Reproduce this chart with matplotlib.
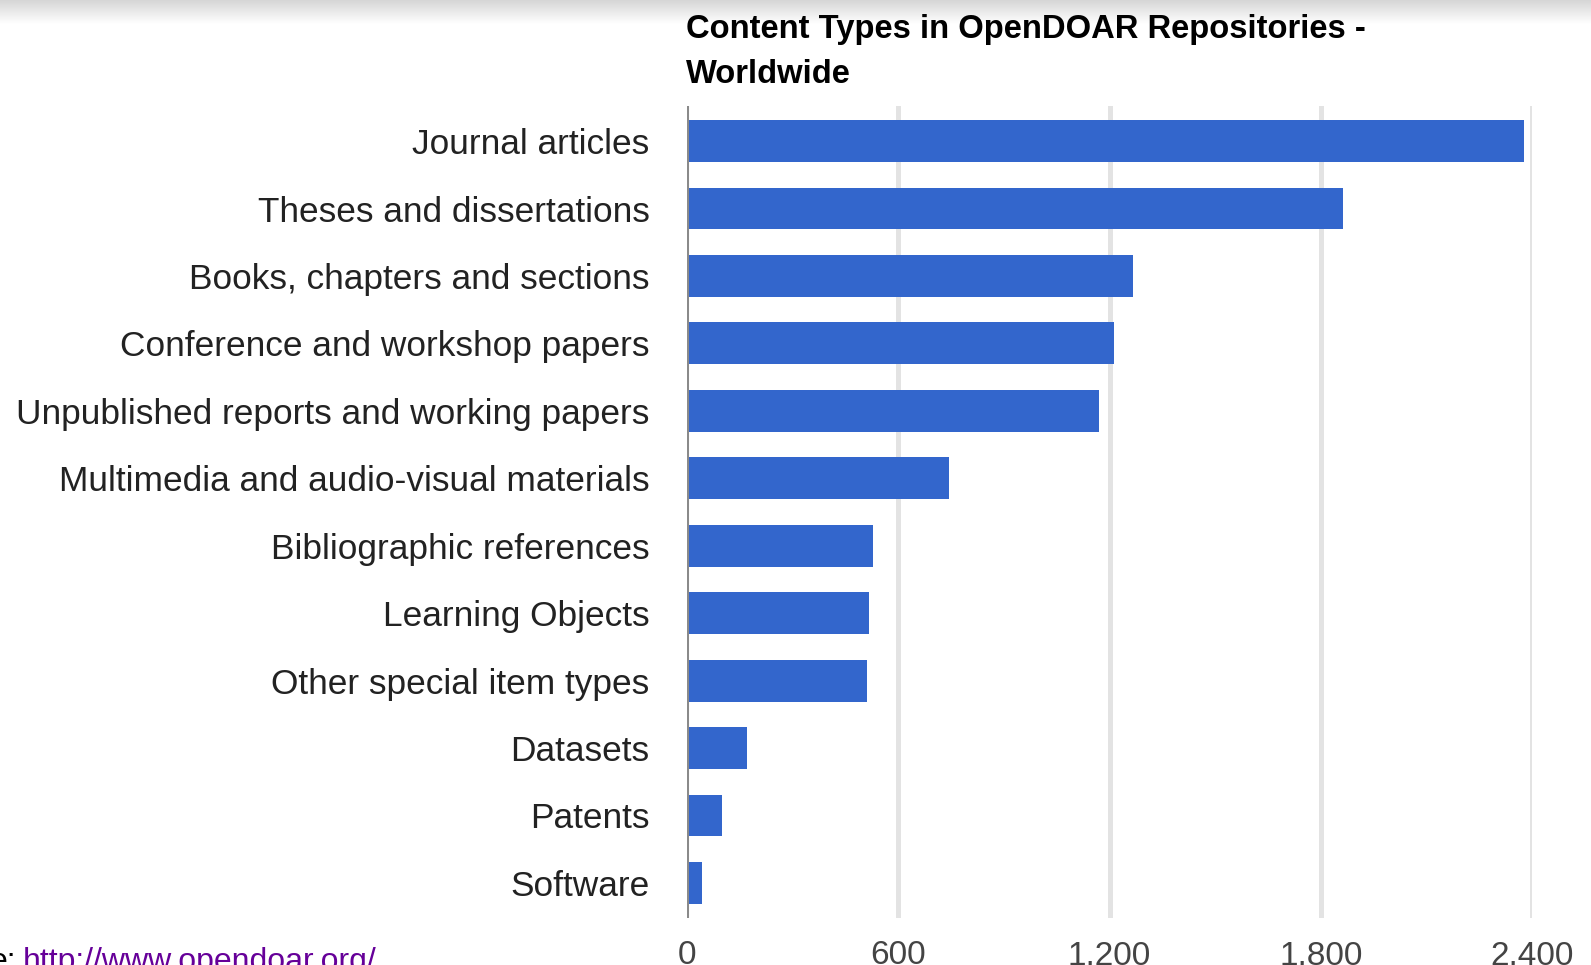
import matplotlib
matplotlib.use("Agg")
import matplotlib.pyplot as plt
import numpy as np

categories = ["Journal articles", "Theses and dissertations", "Books, chapters and sections",
              "Conference and workshop papers", "Unpublished reports and working papers",
              "Multimedia and audio-visual materials", "Bibliographic references",
              "Learning Objects", "Other special item types", "Datasets", "Patents", "Software"]
values = [2378, 1862, 1266, 1212, 1170, 743, 527, 518, 510, 170, 99, 42]
xticks = [0, 600, 1200, 1800, 2400]
xtick_labels = ["0", "600", "1,200", "1,800", "2,400"]
title = "Content Types in OpenDOAR Repositories -\nWorldwide"
source_prefix = "e:"
source_url = "http://www.opendoar.org/"

W, H = 1591, 965
plt.rcParams['font.family'] = ['Liberation Sans', 'DejaVu Sans']
fig = plt.figure(figsize=(W / 100, H / 100), dpi=100)
fig.patch.set_facecolor("white")

# top shadow gradient
gax = fig.add_axes([0, 1 - 24 / H, 1, 24 / H], zorder=-5)
grad = np.linspace(0, 1, 50).reshape(-1, 1)
gax.imshow(grad, aspect="auto", cmap=matplotlib.colors.LinearSegmentedColormap.from_list(
    "g", ["#d6d6d6", "#ffffff"]), extent=[0, 1, 0, 1], origin="upper")
gax.axis("off")

left, right, top, bottom = 687, 1532, 106, 918
ax = fig.add_axes([left / W, 1 - bottom / H, (right - left) / W, (bottom - top) / H])
ypos = np.arange(len(categories))
ax.barh(ypos, values, height=0.62, color="#3366cc", zorder=3)
ax.set_xlim(0, 2400)
ax.set_ylim(len(categories) - 0.48, -0.52)
for x in xticks[1:]:
    ax.axvline(x, color="#e3e3e3", lw=3.6, zorder=1)
ax.axvline(0, color="#8a8a8a", lw=2.2, zorder=4)
for s in ax.spines.values():
    s.set_visible(False)
ax.set_yticks(ypos)
ax.set_yticklabels(categories, fontsize=25.4, color="#222222")
ax.set_xticks(xticks)
ax.set_xticklabels(xtick_labels, fontsize=24, color="#444444")
ax.tick_params(axis="y", length=0, pad=27)
ax.tick_params(axis="x", length=0, pad=16)

fig.text(686 / W, 1 - 83 / H, title, fontsize=23.6, fontweight="bold", color="#000000",
         ha="left", va="baseline", linespacing=1.6)

fig.text(16 / W, 1 - 947 / H, source_prefix, fontsize=23, color="#000000", ha="right", va="top")
fig.text(22.5 / W, 1 - 947 / H, source_url, fontsize=23, color="#660099", ha="left", va="top")

fig.savefig("out.png", dpi=100, facecolor="white")
